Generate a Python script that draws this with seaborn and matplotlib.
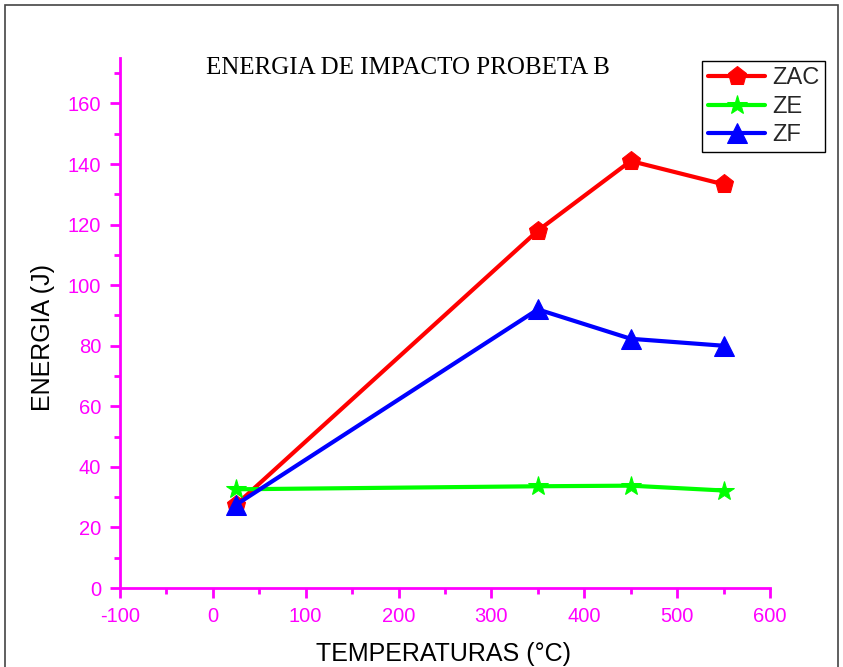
import matplotlib
matplotlib.use("Agg")
import matplotlib.pyplot as plt
import matplotlib.patches as patches
from matplotlib.ticker import MultipleLocator
import seaborn as sns
import pandas as pd

# datos
temperaturas = [25, 350, 450, 550]
zac = [27.5, 118.0, 141.0, 133.3]
ze = [32.6, 33.6, 33.8, 32.2]
zf = [27.5, 92.0, 82.3, 80.0]
series = ["ZAC", "ZE", "ZF"]

colores = {"ZAC": "#FF0000", "ZE": "#00FF00", "ZF": "#0000FF"}
marcadores = {"ZAC": "p", "ZE": "*", "ZF": "^"}
tamanos = {"ZAC": 14, "ZE": 15, "ZF": 14}
MAGENTA = "#FF00FF"

sns.set_theme(style="white")
plt.rcParams["font.family"] = ["Liberation Sans", "DejaVu Sans"]
plt.rcParams["axes.unicode_minus"] = False

fig = plt.figure(figsize=(8.43, 6.67), dpi=100)
ax = fig.add_axes([0.1423, 0.1184, 0.7711, 0.7946])

valores = {"ZAC": zac, "ZE": ze, "ZF": zf}
for nombre in series:
    df = pd.DataFrame({"T": temperaturas, "E": valores[nombre]})
    sns.lineplot(data=df, x="T", y="E", ax=ax, color=colores[nombre],
                 marker=marcadores[nombre], markersize=tamanos[nombre],
                 markeredgecolor=colores[nombre], linewidth=3, label=nombre)

ax.set_xlim(-100, 600)
ax.set_ylim(0, 175)
ax.xaxis.set_major_locator(MultipleLocator(100))
ax.xaxis.set_minor_locator(MultipleLocator(50))
ax.yaxis.set_major_locator(MultipleLocator(20))
ax.yaxis.set_minor_locator(MultipleLocator(10))

for lado in ["top", "right"]:
    ax.spines[lado].set_visible(False)
for lado in ["left", "bottom"]:
    ax.spines[lado].set_color(MAGENTA)
    ax.spines[lado].set_linewidth(2)

ax.tick_params(which="major", direction="out", length=7, width=2,
               color=MAGENTA, labelcolor=MAGENTA, labelsize=14.5,
               left=True, bottom=True, pad=6.5)
ax.tick_params(which="minor", direction="out", length=4.5, width=2,
               color=MAGENTA, left=True, bottom=True)

ax.set_xlabel("TEMPERATURAS (°C)", fontsize=18, color="black")
ax.set_ylabel("ENERGIA (J)", fontsize=18, color="black")
ax.xaxis.set_label_coords(0.498, -0.102)
ax.yaxis.set_label_coords(-0.1, 0.472)

fig.text(0.484, 0.898, "ENERGIA DE IMPACTO PROBETA B", ha="center", va="center",
         fontsize=18, family=["Liberation Serif", "DejaVu Serif"], color="black")

leg = ax.legend(loc="upper right", bbox_to_anchor=(0.979, 0.908),
                bbox_transform=fig.transFigure, fontsize=17, frameon=True,
                fancybox=False, framealpha=1, edgecolor="black",
                handlelength=2.4, handletextpad=0.3, borderpad=0.25,
                labelspacing=0.28, borderaxespad=0)
leg.get_frame().set_linewidth(1)

# marco de la figura
fig.patches.append(patches.Rectangle((0.006, -0.01), 0.988, 1.0025,
                                     transform=fig.transFigure, fill=False,
                                     edgecolor="#444444", linewidth=1.2))

fig.savefig("out.png", dpi=100)
